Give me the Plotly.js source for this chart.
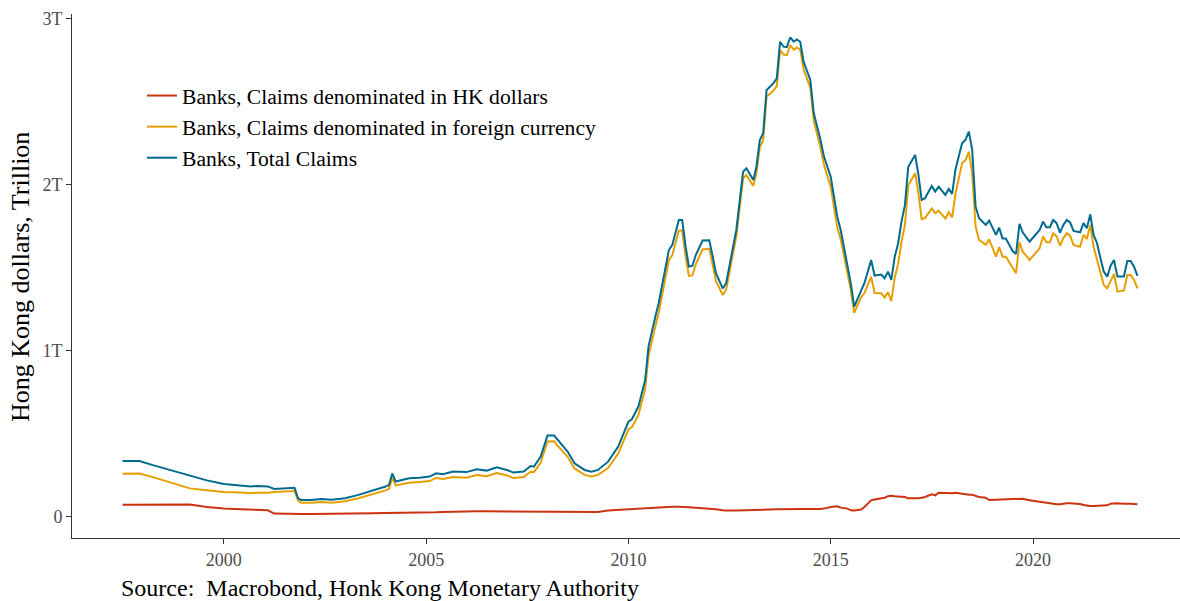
<!DOCTYPE html>
<html>
<head>
<meta charset="utf-8">
<script src="https://cdn.plot.ly/plotly-3.0.1.min.js"></script>
<style>html,body{margin:0;padding:0;background:#fff;}#chart{width:1180px;height:601px;}</style>
</head>
<body>
<div id="chart"></div>
<script>
var months = [
'1997-07','1997-12','1998-04','1998-10','1999-03','1999-08','2000-01','2000-06','2000-09','2000-11',
'2001-02','2001-04','2001-07','2001-10','2001-11','2001-12','2002-03','2002-06','2002-09','2003-01',
'2003-05','2003-09','2004-01','2004-02','2004-03','2004-04','2004-08','2004-11','2005-02','2005-04',
'2005-06','2005-09','2006-01','2006-04','2006-07','2006-10','2007-01','2007-03','2007-06','2007-08',
'2007-09','2007-11','2008-01','2008-03','2008-04','2008-07','2008-09','2008-12','2009-02','2009-04',
'2009-07','2009-10','2009-12','2010-01','2010-02','2010-04','2010-06','2010-07','2010-09','2010-10',
'2011-01','2011-02','2011-04','2011-05','2011-06','2011-07','2011-08','2011-09','2011-11','2012-01',
'2012-02','2012-03','2012-05','2012-06','2012-09','2012-11','2012-12','2013-02','2013-03','2013-04',
'2013-05','2013-06','2013-08','2013-09','2013-10','2013-11','2013-12','2014-01','2014-02','2014-03',
'2014-04','2014-05','2014-07','2014-08','2014-10','2014-11','2015-01','2015-03','2015-04','2015-06',
'2015-07','2015-08','2015-10','2015-11','2016-01','2016-02','2016-04','2016-05','2016-06','2016-07',
'2016-08','2016-09','2016-10','2016-11','2016-12','2017-02','2017-03','2017-04','2017-05','2017-07',
'2017-08','2017-09','2017-11','2017-12','2018-01','2018-02','2018-04','2018-05','2018-06','2018-07',
'2018-08','2018-09','2018-11','2018-12','2019-02','2019-03','2019-04','2019-05','2019-07','2019-08',
'2019-09','2019-10','2019-12','2020-03','2020-04','2020-05','2020-06','2020-07','2020-08','2020-09',
'2020-10','2020-11','2020-12','2021-01','2021-03','2021-04','2021-05','2021-06','2021-07','2021-08',
'2021-09','2021-10','2021-11','2021-12','2022-01','2022-02','2022-04','2022-05','2022-06','2022-07','2022-08'
];

// Values in trillions of HK dollars
var claimsHKD = [
0.074,0.074,0.075,0.076,0.075,0.060,0.050,0.046,0.044,0.042,
0.040,0.020,0.018,0.018,0.018,0.018,0.018,0.018,0.018,0.019,
0.021,0.022,0.024,0.024,0.025,0.025,0.026,0.026,0.027,0.028,
0.030,0.032,0.034,0.034,0.034,0.034,0.034,0.033,0.033,0.033,
0.033,0.033,0.033,0.032,0.032,0.032,0.031,0.030,0.030,0.030,
0.038,0.042,0.044,0.046,0.047,0.050,0.054,0.056,0.058,0.058,
0.060,0.062,0.062,0.062,0.060,0.058,0.057,0.056,0.054,0.052,
0.050,0.046,0.040,0.038,0.038,0.040,0.040,0.042,0.042,0.043,
0.044,0.044,0.045,0.046,0.046,0.047,0.048,0.048,0.048,0.048,
0.048,0.047,0.046,0.046,0.048,0.050,0.060,0.064,0.056,0.050,
0.040,0.038,0.045,0.060,0.100,0.105,0.112,0.116,0.125,0.128,
0.125,0.124,0.122,0.120,0.112,0.110,0.112,0.115,0.120,0.136,
0.130,0.146,0.142,0.140,0.142,0.146,0.138,0.136,0.134,0.134,
0.125,0.120,0.116,0.102,0.104,0.105,0.106,0.106,0.108,0.110,
0.110,0.110,0.100,0.090,0.088,0.086,0.084,0.080,0.077,0.076,
0.080,0.082,0.082,0.082,0.078,0.072,0.068,0.066,0.066,0.066,
0.066,0.068,0.070,0.080,0.082,0.082,0.080,0.082,0.080,0.078,0.076
];

var claimsForeign = [
0.260,0.262,0.240,0.205,0.172,0.160,0.150,0.147,0.143,0.146,
0.145,0.150,0.153,0.156,0.098,0.086,0.086,0.090,0.086,0.094,
0.112,0.135,0.160,0.170,0.235,0.190,0.206,0.210,0.216,0.235,
0.228,0.240,0.236,0.252,0.245,0.264,0.250,0.234,0.240,0.272,
0.270,0.328,0.455,0.456,0.430,0.362,0.292,0.253,0.243,0.253,
0.295,0.382,0.480,0.528,0.541,0.614,0.771,0.970,1.149,1.229,
1.548,1.577,1.725,1.727,1.568,1.452,1.455,1.522,1.611,1.615,
1.518,1.422,1.337,1.370,1.691,2.040,2.060,1.994,2.068,2.228,
2.268,2.532,2.567,2.596,2.813,2.786,2.782,2.842,2.815,2.829,
2.815,2.696,2.587,2.386,2.223,2.121,1.990,1.745,1.673,1.478,
1.368,1.229,1.322,1.348,1.448,1.349,1.348,1.322,1.353,1.300,
1.443,1.525,1.657,1.760,1.998,2.071,1.958,1.795,1.800,1.858,
1.830,1.844,1.798,1.836,1.805,1.950,2.131,2.150,2.200,2.070,
1.749,1.669,1.639,1.672,1.568,1.625,1.568,1.568,1.497,1.468,
1.655,1.598,1.548,1.618,1.689,1.655,1.655,1.709,1.690,1.635,
1.680,1.709,1.695,1.639,1.628,1.699,1.675,1.759,1.628,1.548,
1.468,1.398,1.377,1.417,1.464,1.357,1.365,1.458,1.458,1.428,1.377
];

var claimsTotal = [
0.337,0.337,0.312,0.278,0.247,0.220,0.198,0.192,0.184,0.187,
0.184,0.168,0.170,0.175,0.114,0.102,0.102,0.108,0.104,0.112,
0.133,0.157,0.183,0.193,0.262,0.213,0.233,0.236,0.243,0.263,
0.257,0.273,0.270,0.287,0.279,0.299,0.283,0.267,0.273,0.307,
0.303,0.363,0.490,0.490,0.464,0.394,0.323,0.283,0.273,0.283,
0.333,0.424,0.524,0.574,0.588,0.665,0.825,1.026,1.207,1.287,
1.608,1.639,1.789,1.789,1.628,1.508,1.512,1.578,1.665,1.667,
1.568,1.468,1.377,1.408,1.729,2.080,2.100,2.030,2.110,2.271,
2.311,2.572,2.612,2.642,2.863,2.833,2.830,2.890,2.863,2.877,
2.863,2.743,2.633,2.432,2.271,2.171,2.050,1.809,1.729,1.528,
1.408,1.267,1.367,1.408,1.548,1.454,1.460,1.438,1.478,1.428,
1.568,1.649,1.779,1.880,2.110,2.181,2.070,1.910,1.920,1.994,
1.960,1.990,1.940,1.976,1.946,2.096,2.251,2.271,2.321,2.211,
1.869,1.799,1.759,1.785,1.699,1.743,1.678,1.678,1.602,1.584,
1.765,1.713,1.659,1.729,1.779,1.745,1.745,1.789,1.770,1.713,
1.759,1.789,1.775,1.723,1.715,1.770,1.739,1.823,1.699,1.649,
1.558,1.478,1.448,1.512,1.548,1.448,1.448,1.542,1.542,1.508,1.452
];

var seriesNames = [
'Banks, Claims denominated in HK dollars',
'Banks, Claims denominated in foreign currency',
'Banks, Total Claims'
];
var xTickVals = ['2000-01-01','2005-01-01','2010-01-01','2015-01-01','2020-01-01'];
var xTickText = ['2000','2005','2010','2015','2020'];
var yTickVals = [0, 1, 2, 3];
var yTickText = ['0', '1T', '2T', '3T'];
var yTitle = 'Hong Kong dollars, Trillion';
var caption = 'Source:  Macrobond, Honk Kong Monetary Authority';

var colors = ['#CC3311', '#E69F00', '#006B8F'];
var FONT = '"Liberation Serif", "Times New Roman", serif';

var seriesData = [claimsHKD, claimsForeign, claimsTotal];
var traces = seriesData.map(function (vals, i) {
  return {
    type: 'scatter', mode: 'lines',
    x: months, y: vals, name: seriesNames[i],
    line: {color: colors[i], width: 2}
  };
});

var W = 1180, H = 601;
var mL = 72, mR = 0, mT = 14, mB = 63;
var pw = W - mL - mR, ph = H - mT - mB;
function px2x(px) { return (px - mL) / pw; }
function py2y(py) { return (H - mB - py) / ph; }

var axisCommon = {
  showgrid: false, zeroline: false, showline: true,
  linecolor: '#333333', linewidth: 1,
  ticks: 'outside', ticklen: 5, tickcolor: '#333333', tickwidth: 1,
  tickfont: {family: FONT, size: 18, color: '#4D4D4D'}
};

var layout = {
  width: W, height: H,
  margin: {l: mL, r: mR, t: mT, b: mB, pad: 0},
  paper_bgcolor: '#ffffff', plot_bgcolor: '#ffffff',
  font: {family: FONT, color: '#000000'},
  showlegend: true,
  legend: {
    x: px2x(142), y: py2y(75), xanchor: 'left', yanchor: 'top',
    bgcolor: 'rgba(0,0,0,0)', borderwidth: 0,
    font: {family: FONT, size: 21.6, color: '#000000'},
    tracegroupgap: 0
  },
  xaxis: Object.assign({}, axisCommon, {
    type: 'date', range: ['1996-04-01', '2023-08-20'],
    tickmode: 'array', tickvals: xTickVals, ticktext: xTickText
  }),
  yaxis: Object.assign({}, axisCommon, {
    range: [-0.127, 3.03],
    tickmode: 'array', tickvals: yTickVals, ticktext: yTickText
  }),
  annotations: [
    {
      xref: 'paper', yref: 'paper', x: px2x(20), y: py2y(277),
      text: yTitle, textangle: -90, showarrow: false,
      xanchor: 'center', yanchor: 'middle',
      font: {family: FONT, size: 26, color: '#000000'}
    },
    {
      xref: 'paper', yref: 'paper', x: px2x(119), y: py2y(588),
      text: caption, showarrow: false,
      xanchor: 'left', yanchor: 'middle',
      font: {family: FONT, size: 24, color: '#000000'}
    }
  ]
};

Plotly.newPlot('chart', traces, layout, {displayModeBar: false, staticPlot: true});
</script>
</body>
</html>
